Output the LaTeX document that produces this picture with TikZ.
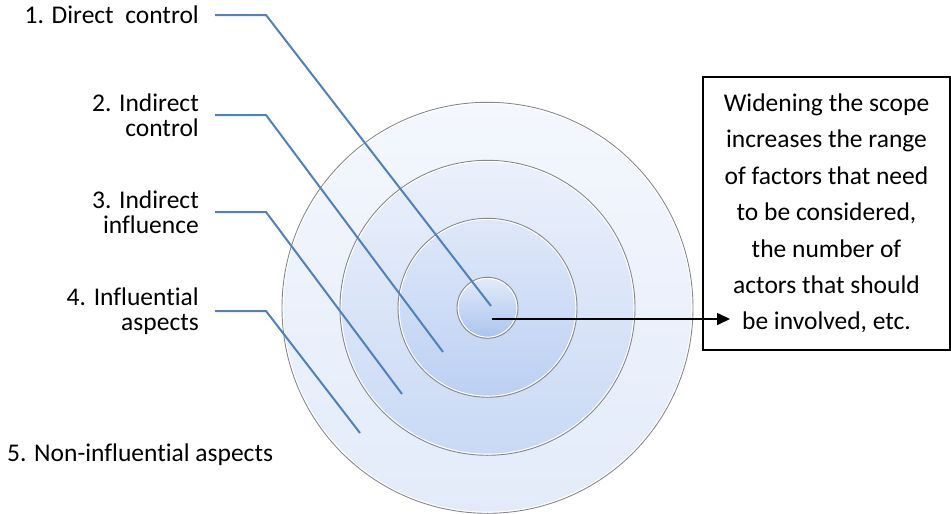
\documentclass[tikz,border=0pt]{standalone}
\usepackage{fontspec}
\setmainfont{Carlito}[Ligatures=NoCommon]
\usetikzlibrary{arrows.meta}
\definecolor{leader}{RGB}{79,129,189}
\definecolor{ringline}{RGB}{135,135,135}
\definecolor{oTop}{HTML}{F4F7FD}
\definecolor{oBot}{HTML}{E3EBFA}
\definecolor{sTop}{HTML}{EBF0FB}
\definecolor{sBot}{HTML}{C9D9F5}
\definecolor{tTop}{HTML}{DFE8F9}
\definecolor{tBot}{HTML}{BCD0F3}
\definecolor{iTop}{HTML}{E4EBF9}
\definecolor{iBot}{HTML}{A9C3EF}
\begin{document}
\begin{tikzpicture}[x=1pt,y=-1pt,
  lbl/.style={font=\fontsize{25.5}{25}\selectfont, align=right, anchor=east, inner sep=0pt},
  leaderline/.style={draw=leader, line width=2pt},
  ring/.style={circle, draw=ringline, line width=0.9pt, inner sep=0pt},
  highlight/.style={draw=white, line width=0.9pt}]
\useasboundingbox (0,0) rectangle (951,514);
\fill[white] (0,0) rectangle (951,514);
\coordinate (c) at (487.5,307.8);
% rings
\node[ring, minimum size=411pt, top color=oTop, bottom color=oBot] (r5) at (c) {};
\draw[highlight] (c) circle[radius=204.3pt];
\node[ring, minimum size=295pt, top color=sTop, bottom color=sBot] (r4) at (c) {};
\draw[highlight] (c) circle[radius=146.3pt];
\node[ring, minimum size=179pt, top color=tTop, bottom color=tBot] (r3) at (c) {};
\draw[highlight] (c) circle[radius=88.3pt];
\node[ring, minimum size=61pt, top color=iTop, bottom color=iBot] (r1) at (c) {};
\draw[highlight] (c) circle[radius=29.3pt];
% labels
\node[lbl] (l1) at (199,15) {1. Direct~ control};
\node[lbl] (l2) at (199,115) {2. Indirect\\control};
\node[lbl] (l3) at (199,212) {3. Indirect\\influence};
\node[lbl] (l4) at (199,311) {4. Influent\kern0pt ial\\aspects};
\node[font=\fontsize{25.5}{25}\selectfont, anchor=west, inner sep=0pt] (l5) at (7,455) {5. Non-influent\kern0pt ial aspects};
% leader end points
\coordinate (e1) at (491,306);
\coordinate (e2) at (443,352);
\coordinate (e3) at (402,394);
\coordinate (e4) at (360,433);
\draw[leaderline] ([xshift=16pt]l1.east) -- ++(51,0) -- (e1);
\draw[leaderline] ([xshift=16pt]l2.east) -- ++(51,0) -- (e2);
\draw[leaderline] ([xshift=16pt]l3.east) -- ++(51,0) -- (e3);
\draw[leaderline] ([xshift=16pt]l4.east) -- ++(51,0) -- (e4);
% note box
\node[draw=black, line width=1.2pt, minimum width=247pt, minimum height=273pt,
      align=center, inner sep=0pt, font=\fontsize{25.5}{36.4}\selectfont] (note) at (826.5,213.5)
  {Widening the scope\\increases the range\\of factors that need\\to be considered,\\the number of\\actors that should\\be involved, etc.};
\coordinate (as) at (491.7,319);
\coordinate (ae) at (730,319);
\draw[line width=1.6pt, -{Triangle[length=13pt,width=12pt]}] (as) -- (ae);
\end{tikzpicture}
\end{document}
